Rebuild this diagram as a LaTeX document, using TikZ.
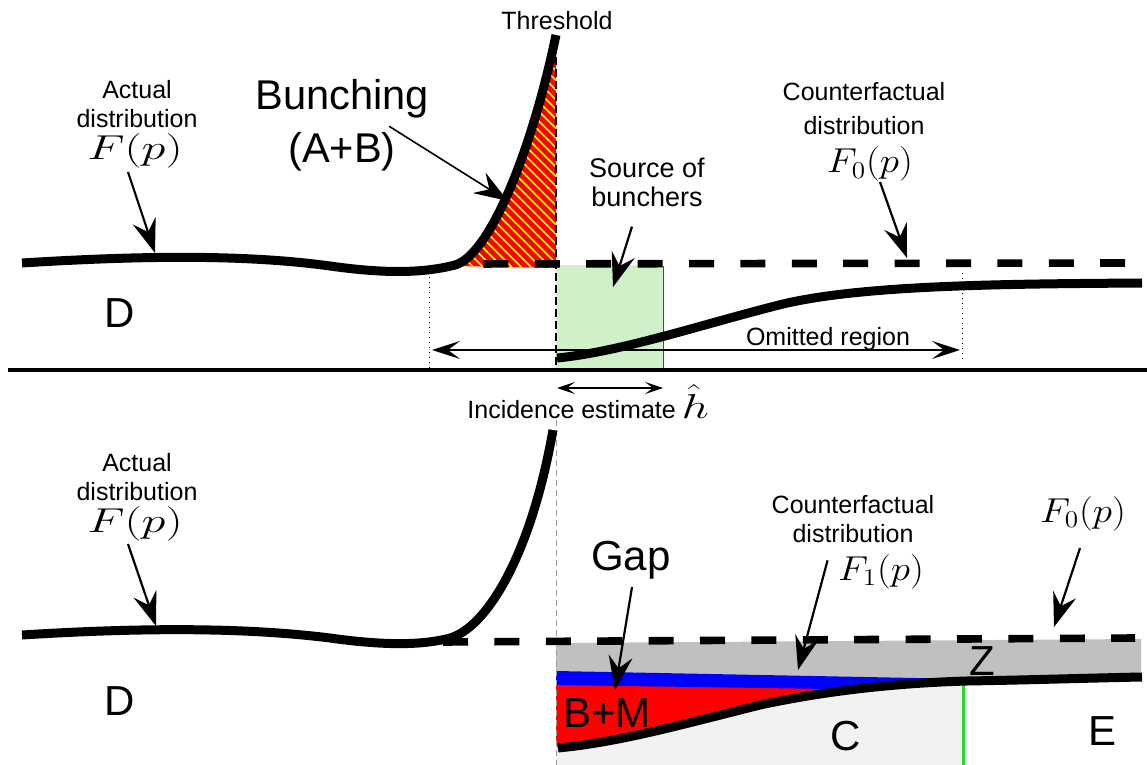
\documentclass[tikz,border=0pt]{standalone}
\usepackage[no-math]{fontspec}
\setmainfont{Liberation Sans}
\usepackage{graphicx}
\usepackage{xcolor}
\definecolor{hatchred}{RGB}{255, 0, 0}
\definecolor{hatchyellow}{RGB}{255, 255, 0}
\definecolor{srcgreen}{RGB}{207, 240, 200}
\definecolor{gapgray}{RGB}{192, 192, 192}
\definecolor{cgray}{RGB}{242, 242, 242}
\definecolor{bandblue}{RGB}{0, 0, 255}
\definecolor{zgreen}{RGB}{40, 220, 40}
\usetikzlibrary{arrows.meta,patterns.meta,positioning,calc}
\newcommand{\widemath}[1]{\scalebox{1.4}[1]{$#1$}}
\newcommand{\submath}[1]{\scalebox{1.13}[1]{$#1$}}

\begin{document}
\begin{tikzpicture}[
  x=0.5pt, y=-0.5pt,
  curve/.style={line width=4.5pt},
  cfline/.style={line width=3.8pt, dash pattern=on 12.5pt off 13.2pt},
  ptr/.style={-{Stealth[length=17pt, width=12pt, inset=6pt]}, line width=1.1pt},
  thinptr/.style={-{Stealth[length=17pt, width=12pt, inset=6pt]}, line width=0.8pt},
  span/.style={{Stealth[length=14pt, width=9pt, inset=6pt]}-{Stealth[length=14pt, width=9pt, inset=6pt]}, line width=0.7pt},
  smallspan/.style={{Stealth[length=9pt, width=6pt, inset=4pt]}-{Stealth[length=9pt, width=6pt, inset=4pt]}, line width=0.7pt},
  lbl/.style={font=\fontsize{12.5}{14.5}\selectfont, align=center, inner sep=0pt},
  mlbl/.style={font=\fontsize{18}{20}\selectfont, inner sep=0pt},
  biglbl/.style={font=\fontsize{21}{24}\selectfont, inner sep=0pt}
]
\useasboundingbox (0,0) rectangle (1147,765);

% ---- upper panel ----
\fill[srcgreen] (556,265) rectangle (663,370);
\fill[hatchred, postaction={pattern={Lines[angle=-45, distance=3.4pt, line width=0.8pt]}, pattern color=hatchyellow}]
  (455,266) .. controls (490,256) and (532,150) .. (554,36) -- (556,36) -- (556,268) -- cycle;
\draw[line width=0.8pt, dash pattern=on 4pt off 2pt] (556,45) -- (556,370);
\draw[line width=0.5pt, dotted] (429,272) -- (429,370);
\draw[line width=0.5pt, dotted] (962,273) -- (962,362);
\draw[line width=0.5pt, black!70] (663,266) -- (663,370);
\draw[curve] (22,263) .. controls (150,255) and (250,255) .. (330,266)
  .. controls (380,273) and (420,274) .. (455,265)
  .. controls (490,255) and (532,150) .. (556,35);
\draw[curve] (557,358) .. controls (620,352) and (700,325) .. (779,305)
  .. controls (859,285) and (1000,284) .. (1142,283);
\draw[cfline, dash phase=12.5pt] (457,264) -- (1125,263);

\coordinate (omL) at (432,350);
\coordinate (omR) at (960,350);
\draw[span] (omL) -- (omR);
\node[lbl, anchor=base] (omit) at (828,345) {Omitted region};

\node[lbl, anchor=base] (thr) at (557,30) {Threshold};
\node[lbl, anchor=north] (act1) at (137,80) {Actual\\distribution};
\node[mlbl, anchor=base] (actF1) at (135,160) {\widemath{F(p)}};
\node[lbl, anchor=north, font=\fontsize{20.8}{26.5}\selectfont] (bunch) at (342,79) {Bunching\\(A+B)};
\node[lbl, anchor=north, font=\fontsize{13.5}{14.5}\selectfont] (src) at (647,158) {Source of\\bunchers};
\node[lbl, anchor=north, font=\fontsize{12.5}{17}\selectfont] (cf0) at (864,82) {Counterfactual\\distribution};
\node[mlbl, anchor=base] (cfF0) at (870,173) {\submath{F_0(p)}};
\node[biglbl, anchor=base] (d1) at (120,327) {D};

\coordinate (tipA1) at (155,253);
\coordinate (tipB) at (508,201);
\coordinate (tipS) at (613,287);
\coordinate (tipF0) at (907,258);
\draw[ptr] ($(actF1.south)+(-7,3)$) -- (tipA1);
\draw[thinptr] ($(bunch.east)+(-40,1)$) -- (tipB);
\draw[ptr] ($(src.south)+(-15,19)$) -- (tipS);
\draw[ptr] ($(cfF0.south)+(10,0)$) -- (tipF0);

\draw[line width=1.6pt] (8,370) -- (1147,370);

% ---- lower panel ----
\coordinate (incL) at (557,388);
\coordinate (incR) at (663,388);
\draw[smallspan] (incL) -- (incR);
\node[lbl, anchor=base west] (inc) at (467,418) {Incidence estimate};
\node[mlbl, anchor=base west] (hhat) at ($(inc.base east)+(5,0)$) {\widemath{\hat h}};

\fill[cgray] (556,660) rectangle (963,765);
\fill[gapgray] (556,643) -- (1141,639) -- (1141,677) -- (967,680) -- (556,671) -- cycle;
\fill[hatchred] (556,684) -- (967,680) .. controls (900,683) and (830,690) .. (760,705)
  .. controls (680,725) and (620,742) .. (558,748) -- (556,745) -- cycle;
\fill[bandblue] (556,671) -- (967,679) -- (900,684) -- (830,689) -- (556,685) -- cycle;
\draw[zgreen, line width=1.5pt] (963,684) -- (963,765);
\draw[curve] (558,748) .. controls (620,742) and (680,725) .. (760,705)
  .. controls (830,690) and (900,683) .. (967,681)
  .. controls (1030,680) and (1090,678) .. (1142,677);
\draw[black!40, line width=0.5pt, dash pattern=on 3pt off 2pt] (556,420) -- (556,765);
\draw[cfline] (443,642) -- (1135,638);
\draw[curve] (22,635) .. controls (150,627) and (250,628) .. (330,638)
  .. controls (380,645) and (420,646) .. (450,638)
  .. controls (485,628) and (530,560) .. (553,430);

\node[lbl, anchor=north] (act2) at (137,453) {Actual\\distribution};
\node[mlbl, anchor=base] (actF2) at (135,532) {\widemath{F(p)}};
\node[biglbl, anchor=base] (gap) at (631,570) {Gap};
\node[lbl, anchor=north] (cf1) at (853,495) {Counterfactual\\distribution};
\node[mlbl, anchor=base] (cfF1) at (881,580) {\submath{F_1(p)}};
\node[mlbl, anchor=base] (f0b) at (1083,522) {\submath{F_0(p)}};
\node[biglbl, anchor=base] (bm) at (607,727) {B+M};
\node[biglbl, anchor=base] (cl) at (846,750) {C};
\node[biglbl, anchor=base] (el) at (1102,745) {E};
\node[biglbl, anchor=base] (zl) at (982,675) {Z};
\node[biglbl, anchor=base] (d2) at (120,715) {D};

\coordinate (tipA2) at (156,626);
\coordinate (tipG) at (615,690);
\coordinate (tipF1) at (798,670);
\coordinate (tipF0b) at (1054,627);
\draw[ptr] ($(actF2.south)+(-7,3)$) -- (tipA2);
\draw[ptr] ($(gap.south)+(1,8)$) -- (tipG);
\draw[ptr] ($(cfF1.west)+(-10,-11)$) -- (tipF1);
\draw[ptr] ($(f0b.south)+(-3,17)$) -- (tipF0b);
\end{tikzpicture}
\end{document}
